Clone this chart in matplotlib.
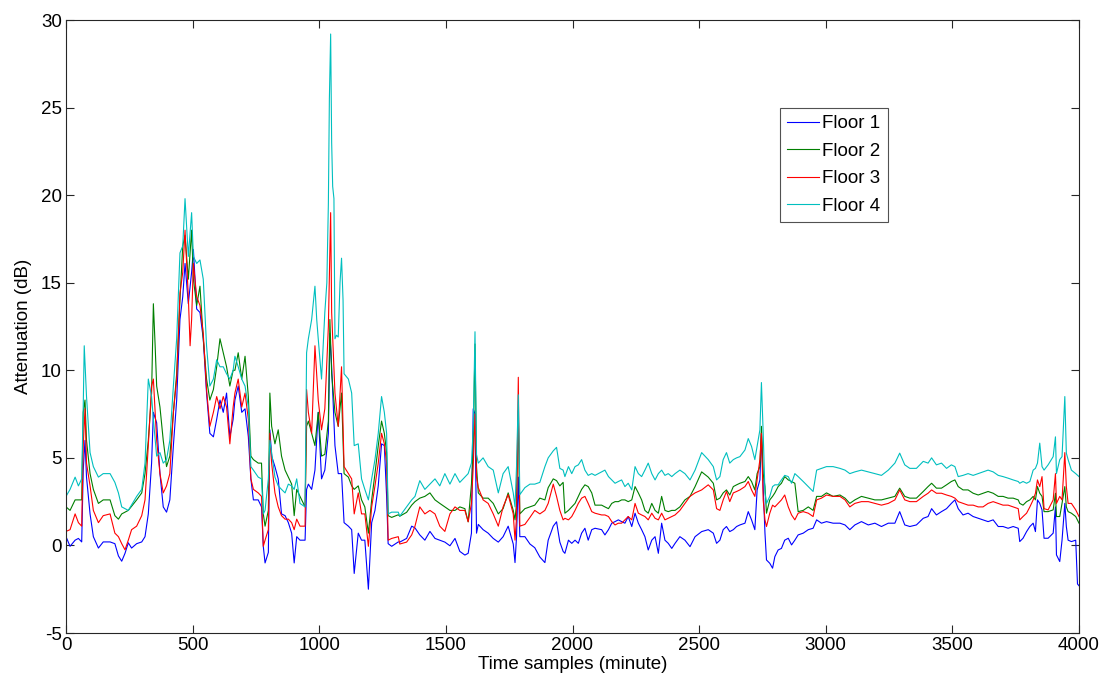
import matplotlib
matplotlib.use("Agg")
import matplotlib.pyplot as plt

# ---------------- data ----------------
t_floor1 = [0, 16, 36, 49, 62, 68, 75, 81, 95, 108, 128, 147, 174, 193, 207, 220, 233, 246, 259, 279,
            299, 312, 325, 338, 345, 358, 371, 384, 397, 410, 424, 437, 450, 461, 470, 483, 496, 503, 516,
            529, 542, 555, 568, 582, 595, 608, 621, 634, 647, 660, 667, 680, 694, 707, 720, 730, 740, 759,
            772, 779, 786, 799, 805, 812, 825, 838, 851, 865, 878, 891, 901, 911, 924, 944, 950, 957, 970,
            983, 996, 1009, 1022, 1036, 1042, 1049, 1062, 1075, 1088, 1098, 1115, 1128, 1138, 1154, 1167,
            1180, 1194, 1207, 1220, 1233, 1246, 1257, 1266, 1272, 1286, 1312, 1318, 1345, 1365, 1378, 1397,
            1417, 1437, 1457, 1476, 1496, 1516, 1536, 1555, 1575, 1588, 1601, 1608, 1615, 1621, 1628, 1647,
            1667, 1687, 1707, 1726, 1746, 1766, 1773, 1779, 1786, 1792, 1812, 1832, 1851, 1871, 1891, 1904,
            1924, 1937, 1950, 1963, 1970, 1984, 1997, 2010, 2023, 2036, 2049, 2062, 2076, 2089, 2115, 2128,
            2142, 2155, 2168, 2181, 2194, 2207, 2220, 2234, 2247, 2260, 2273, 2286, 2299, 2313, 2326, 2339,
            2352, 2365, 2378, 2392, 2405, 2424, 2444, 2464, 2484, 2510, 2536, 2556, 2569, 2582, 2595, 2608,
            2621, 2635, 2648, 2661, 2681, 2694, 2707, 2720, 2729, 2740, 2746, 2753, 2760, 2766, 2779, 2790,
            2799, 2812, 2825, 2838, 2852, 2865, 2878, 2891, 2911, 2931, 2950, 2964, 2983, 3003, 3029, 3056,
            3076, 3095, 3115, 3141, 3168, 3194, 3220, 3247, 3273, 3292, 3312, 3332, 3358, 3385, 3404, 3418,
            3437, 3457, 3477, 3496, 3510, 3523, 3542, 3562, 3582, 3602, 3621, 3641, 3661, 3681, 3700, 3720,
            3740, 3760, 3766, 3779, 3793, 3806, 3819, 3828, 3836, 3845, 3854, 3862, 3878, 3898, 3907, 3911,
            3924, 3933, 3944, 3950, 3957, 3970, 3987, 3994, 4000]
v_floor1 = [0.5, -0.05, 0.3, 0.4, 0.2, 4.3, 6.0, 3.9, 1.8, 0.5, -0.15, 0.2, 0.2, 0.1, -0.6, -0.9, -0.45, 0.15, -0.15, 0.1,
            0.2, 0.5, 1.8, 4.7, 7.6, 7.0, 4.1, 2.2, 1.9, 2.6, 5.7, 8.3, 12.9, 14.2, 16.1, 13.8, 15.6, 16.9, 13.5,
            13.3, 11.8, 8.7, 6.4, 6.2, 7.2, 8.3, 7.6, 8.7, 6.2, 7.2, 8.3, 9.1, 7.6, 7.8, 6.2, 3.8, 2.6, 2.6,
            2.2, -0.05, -1.0, -0.4, 6.6, 5.1, 4.5, 3.8, 1.8, 1.7, 1.3, 0.7, -1.0, 0.5, 0.3, 0.3, 3.2, 3.5, 3.2,
            4.3, 7.6, 3.8, 4.3, 6.4, 12.1, 10.2, 5.7, 4.1, 4.1, 1.3, 1.1, 0.9, -1.6, 0.7, 0.3,
            0.3, -2.5, 1.3, 2.0, 3.4, 5.8, 5.7, 2.8, 0.1, -0.05, 0.2, 0.19, 0.4, 1.1, 1.0, 0.6,
            0.3, 0.8, 0.4, 0.3, 0.19, -0.02, 0.4, -0.34, -0.55, -0.45, 0.7, 7.8, 7.5, 0.7, 1.2, 0.9,
            0.7, 0.4, 0.19, 0.5, 1.1, 0.08, -0.98, 0.5, 3.9, 0.5, 0.5, 0.08, -0.13, -0.66, -0.98, 0.3,
            1.1, 1.35, 0.19, -0.34, -0.45, 0.3, 0.12, 0.3, 0.12, 0.7, 0.98, 0.3, 0.9, 0.98, 0.9, 0.6,
            0.9, 1.27, 1.36, 1.46, 1.36, 1.27, 1.65, 1.08, 1.84, 1.27, 0.9, 0.5, -0.26, 0.3, 0.5, -0.45,
            1.27, 0.3, 0.12, -0.17, 0.12, 0.5, 0.3, -0.07, 0.5, 0.79, 0.9, 0.7, 0.12, 0.3, 0.9, 1.08,
            0.79, 0.9, 1.08, 1.17, 1.27, 1.93, 1.46, 0.9, 3.17, 3.74, 6.4, 3.36, 0.7, -0.83, -1.02, -1.3,
            -0.64, -0.26, -0.17, 0.3, 0.41, 0.03, 0.3, 0.6, 0.7, 0.9, 0.98, 1.46, 1.27, 1.36, 1.27, 1.27,
            1.17, 0.9, 1.17, 1.36, 1.17, 1.27, 1.08, 1.27, 1.27, 1.93, 1.17, 1.08, 1.17, 1.55, 1.65, 2.1,
            1.74, 1.93, 2.1, 2.4, 2.6, 2.1, 1.74, 1.84, 1.65, 1.55, 1.46, 1.36, 1.46, 1.08, 1.08, 0.98,
            1.08, 0.98, 0.22, 0.41, 0.79, 1.08, 1.27, 0.79, 2.6, 2.4, 2.03, 0.41, 0.41, 0.7, 2.2, -0.54,
            -0.92, 0.3, 2.4, 1.08, 0.3, 0.22, 0.3, -2.2, -2.3]

t_floor2 = [0, 16, 36, 49, 62, 68, 75, 81, 95, 108, 128, 147, 174, 193, 207, 220, 246, 279, 299, 312,
            325, 338, 345, 352, 358, 371, 384, 397, 410, 424, 437, 450, 461, 470, 483, 496, 503, 516, 529,
            542, 555, 568, 582, 595, 608, 621, 634, 647, 660, 667, 680, 694, 707, 720, 730, 740, 759, 772,
            779, 786, 799, 805, 812, 825, 838, 851, 865, 878, 891, 901, 911, 924, 944, 950, 957, 970, 983,
            996, 1009, 1022, 1036, 1042, 1049, 1062, 1075, 1088, 1098, 1115, 1128, 1138, 1154, 1167, 1180,
            1194, 1207, 1220, 1233, 1246, 1257, 1266, 1272, 1286, 1312, 1318, 1345, 1365, 1378, 1397, 1417,
            1437, 1457, 1476, 1496, 1516, 1536, 1555, 1575, 1588, 1601, 1608, 1615, 1621, 1628, 1647, 1667,
            1687, 1707, 1726, 1746, 1766, 1773, 1779, 1786, 1792, 1812, 1832, 1851, 1871, 1891, 1904, 1924,
            1937, 1950, 1963, 1970, 1984, 1997, 2010, 2023, 2036, 2049, 2062, 2076, 2089, 2115, 2128, 2142,
            2155, 2168, 2181, 2194, 2207, 2220, 2234, 2247, 2260, 2273, 2286, 2299, 2313, 2326, 2339, 2352,
            2365, 2378, 2392, 2405, 2424, 2444, 2464, 2484, 2510, 2536, 2556, 2569, 2582, 2595, 2608, 2621,
            2635, 2648, 2661, 2681, 2694, 2707, 2720, 2729, 2740, 2746, 2753, 2760, 2766, 2779, 2790, 2799,
            2812, 2825, 2838, 2852, 2865, 2878, 2891, 2911, 2931, 2950, 2964, 2983, 3003, 3029, 3056, 3076,
            3095, 3115, 3141, 3168, 3194, 3220, 3247, 3273, 3292, 3312, 3332, 3358, 3385, 3404, 3418, 3437,
            3457, 3477, 3496, 3510, 3523, 3542, 3562, 3582, 3602, 3621, 3641, 3661, 3681, 3700, 3720, 3740,
            3760, 3766, 3779, 3793, 3806, 3819, 3828, 3836, 3845, 3854, 3862, 3878, 3898, 3907, 3911, 3924,
            3933, 3944, 3950, 3957, 3970, 3987, 4000]
v_floor2 = [2.2, 2.0, 2.6, 2.6, 2.6, 7.6, 8.3, 6.0, 4.1, 3.2, 2.4, 2.6, 2.6, 1.7, 1.5, 1.8, 2.0, 2.6, 3.0, 4.1,
            6.0, 8.7, 13.8, 11.4, 9.1, 7.9, 6.0, 4.5, 5.1, 7.6, 9.8, 14.0, 17.1, 17.7, 15.2, 18.0, 15.2, 13.7, 14.8,
            11.8, 9.5, 8.3, 8.9, 10.2, 11.8, 11.0, 10.2, 9.1, 10.0, 10.0, 11.0, 9.5, 10.8, 8.5, 5.1, 4.9, 4.7, 4.7,
            1.8, 1.1, 2.0, 8.7, 6.8, 5.8, 6.6, 5.1, 4.3, 3.9, 3.5, 1.7, 3.2, 2.8, 2.2, 6.8, 7.1, 6.4, 5.7,
            7.6, 5.1, 5.2, 7.1, 12.9, 9.8, 7.6, 6.8, 8.7, 4.1, 3.9, 3.4, 3.2, 3.4, 2.6, 2.2,
            0.7, 2.6, 4.1, 5.7, 7.1, 6.4, 5.3, 1.7, 1.6, 1.75, 1.67, 1.89, 2.3, 2.5, 2.7, 2.8,
            3.0, 2.6, 2.4, 2.2, 2.0, 2.0, 2.2, 2.1, 1.35, 3.5, 5.6, 11.5, 4.5, 3.0, 2.7, 2.7,
            2.4, 1.8, 2.1, 3.0, 2.0, 1.46, 2.4, 7.7, 1.8, 2.1, 2.2, 2.3, 2.7, 2.6, 3.3, 3.8,
            3.7, 3.4, 3.6, 1.84, 2.0, 2.2, 2.4, 2.8, 3.2, 3.46, 3.36, 3.0, 2.3, 2.3, 2.2, 2.1,
            2.4, 2.5, 2.5, 2.6, 2.6, 2.5, 2.6, 3.36, 3.0, 2.6, 2.0, 1.84, 2.4, 2.0, 1.84, 2.8,
            2.0, 1.93, 2.0, 2.0, 2.2, 2.6, 2.8, 3.36, 4.2, 3.9, 3.55, 2.6, 2.7, 3.0, 3.17, 2.88,
            3.36, 3.46, 3.55, 3.65, 3.93, 3.65, 3.17, 4.1, 4.5, 6.8, 4.1, 3.36, 1.84, 2.6, 2.8, 3.0,
            3.36, 3.55, 3.93, 3.74, 3.65, 3.55, 1.93, 2.0, 2.2, 2.0, 2.8, 2.8, 3.0, 2.8, 2.88, 2.7,
            2.4, 2.6, 2.8, 2.7, 2.6, 2.6, 2.7, 2.8, 3.27, 2.8, 2.7, 2.7, 3.08, 3.36, 3.55, 3.27,
            3.27, 3.46, 3.65, 3.74, 3.36, 3.17, 3.17, 2.98, 2.88, 2.98, 3.08, 2.98, 2.8, 2.8, 2.7, 2.7,
            2.6, 2.4, 2.3, 2.5, 2.6, 2.8, 2.6, 3.36, 2.98, 2.8, 1.93, 1.93, 2.03, 2.98, 1.65, 1.65,
            2.4, 3.36, 2.2, 1.93, 1.84, 1.65, 1.27]

t_floor3 = [0, 16, 36, 49, 62, 68, 75, 81, 95, 108, 128, 147, 174, 193, 207, 220, 233, 246, 259, 279,
            299, 312, 325, 338, 345, 358, 371, 384, 397, 410, 424, 437, 450, 461, 470, 483, 490, 496, 503,
            516, 529, 542, 555, 568, 582, 595, 608, 621, 634, 647, 660, 667, 680, 694, 707, 720, 730, 740,
            759, 772, 779, 786, 799, 805, 812, 825, 838, 851, 865, 878, 891, 901, 911, 924, 944, 950, 957,
            970, 983, 996, 1009, 1022, 1036, 1045, 1049, 1062, 1075, 1088, 1098, 1115, 1128, 1138, 1154,
            1167, 1180, 1194, 1207, 1220, 1233, 1246, 1257, 1266, 1272, 1286, 1312, 1318, 1345, 1365, 1378,
            1397, 1417, 1437, 1457, 1476, 1496, 1516, 1536, 1555, 1575, 1588, 1601, 1608, 1615, 1621, 1628,
            1647, 1667, 1687, 1707, 1726, 1746, 1766, 1773, 1779, 1786, 1792, 1812, 1832, 1851, 1871, 1891,
            1904, 1924, 1937, 1950, 1963, 1970, 1984, 1997, 2010, 2023, 2036, 2049, 2062, 2076, 2089, 2115,
            2128, 2142, 2155, 2168, 2181, 2194, 2207, 2220, 2234, 2247, 2260, 2273, 2286, 2299, 2313, 2326,
            2339, 2352, 2365, 2378, 2392, 2405, 2424, 2444, 2464, 2484, 2510, 2536, 2556, 2569, 2582, 2595,
            2608, 2621, 2635, 2648, 2661, 2681, 2694, 2707, 2720, 2729, 2740, 2746, 2753, 2760, 2766, 2779,
            2790, 2799, 2812, 2825, 2838, 2852, 2865, 2878, 2891, 2911, 2931, 2950, 2964, 2983, 3003, 3029,
            3056, 3076, 3095, 3115, 3141, 3168, 3194, 3220, 3247, 3273, 3292, 3312, 3332, 3358, 3385, 3404,
            3418, 3437, 3457, 3477, 3496, 3510, 3523, 3542, 3562, 3582, 3602, 3621, 3641, 3661, 3681, 3700,
            3720, 3740, 3760, 3766, 3779, 3793, 3806, 3819, 3828, 3836, 3845, 3854, 3862, 3878, 3898, 3907,
            3911, 3924, 3933, 3944, 3950, 3957, 3970, 3987, 4000]
v_floor3 = [0.8, 0.9, 1.8, 1.3, 1.1, 5.7, 7.8, 4.7, 3.4, 2.0, 1.3, 1.7, 1.8, 0.7, 0.5, 0.1, -0.25, 0.3, 0.9, 1.1,
            1.7, 2.6, 5.7, 9.1, 9.5, 6.0, 4.1, 3.0, 3.4, 4.1, 7.6, 9.5, 14.4, 15.6, 18.0, 14.2, 11.4, 12.9, 16.1,
            14.2, 13.7, 12.1, 8.9, 6.8, 7.6, 8.5, 7.8, 8.5, 7.9, 5.8, 7.9, 8.7, 9.5, 7.9, 8.7, 7.2, 3.8, 3.2,
            3.0, 2.8, -0.05, 0.3, 0.9, 6.4, 4.7, 3.0, 2.2, 1.7, 1.5, 1.5, 1.3, 0.9, 1.5, 1.1, 1.1, 8.9, 7.6,
            6.4, 11.4, 8.3, 6.6, 7.8, 12.5, 19.0, 13.3, 8.7, 6.8, 10.2, 4.5, 4.1, 3.8, 1.8, 3.0,
            1.8, 1.8, -0.05, 2.2, 3.4, 4.7, 6.4, 5.8, 4.7, 0.3, 0.4, 0.5, 0.08, 0.19, 0.6, 1.1,
            2.2, 1.8, 2.0, 1.8, 1.1, 0.8, 1.8, 2.2, 2.0, 2.0, 1.35, 2.4, 4.5, 7.5, 3.9, 3.3,
            2.6, 2.4, 1.8, 1.1, 2.2, 2.9, 1.8, 0.3, 1.6, 9.6, 1.1, 1.2, 1.6, 2.0, 1.8, 2.0,
            2.4, 3.5, 2.8, 2.0, 1.46, 1.55, 1.46, 1.65, 2.0, 2.4, 2.7, 2.8, 2.4, 1.93, 1.84, 1.74,
            1.74, 1.65, 1.36, 1.17, 1.27, 1.27, 1.46, 1.65, 1.46, 2.4, 1.84, 1.74, 1.65, 1.46, 1.84, 1.55,
            1.46, 1.84, 1.46, 1.55, 1.65, 1.74, 2.0, 2.4, 2.8, 3.0, 3.17, 3.46, 3.17, 2.1, 2.0, 2.6,
            3.08, 2.5, 3.0, 3.08, 3.17, 3.36, 3.65, 3.17, 2.8, 3.74, 4.9, 6.4, 2.6, 1.46, 1.08, 1.84,
            2.3, 2.2, 2.4, 2.6, 2.88, 2.2, 1.74, 1.46, 1.84, 1.93, 1.84, 1.65, 2.6, 2.7, 2.88, 2.8,
            2.8, 2.6, 2.2, 2.4, 2.5, 2.5, 2.4, 2.3, 2.4, 2.6, 3.17, 2.6, 2.5, 2.5, 2.8, 2.98,
            3.17, 2.98, 2.98, 2.88, 2.8, 2.7, 2.5, 2.4, 2.3, 2.3, 2.2, 2.2, 2.4, 2.5, 2.4, 2.3,
            2.3, 2.2, 2.1, 1.46, 1.65, 1.84, 2.2, 2.6, 2.98, 3.74, 3.36, 3.93, 2.1, 2.03, 2.6, 4.1,
            2.4, 2.8, 2.6, 5.3, 3.36, 2.4, 2.4, 2.03, 1.65]

t_floor4 = [0, 16, 36, 49, 62, 68, 72, 81, 95, 108, 128, 147, 174, 193, 207, 220, 246, 279, 299, 312,
            325, 338, 345, 358, 371, 384, 397, 410, 424, 437, 450, 461, 470, 483, 496, 503, 516, 529, 542,
            555, 568, 582, 595, 608, 621, 634, 647, 660, 667, 680, 694, 707, 720, 730, 740, 759, 772, 779,
            786, 799, 805, 812, 825, 838, 851, 865, 878, 891, 901, 911, 924, 944, 950, 957, 970, 983, 990,
            996, 1009, 1022, 1030, 1036, 1040, 1045, 1049, 1053, 1058, 1062, 1068, 1075, 1082, 1088, 1094,
            1098, 1115, 1128, 1138, 1154, 1167, 1180, 1194, 1207, 1220, 1233, 1246, 1257, 1266, 1272, 1286,
            1312, 1318, 1345, 1365, 1378, 1397, 1417, 1437, 1457, 1476, 1496, 1516, 1536, 1555, 1575, 1588,
            1601, 1608, 1615, 1621, 1628, 1647, 1667, 1687, 1707, 1726, 1746, 1766, 1773, 1779, 1786, 1792,
            1812, 1832, 1851, 1871, 1891, 1904, 1924, 1937, 1950, 1963, 1970, 1984, 1997, 2010, 2023, 2036,
            2049, 2062, 2076, 2089, 2115, 2128, 2142, 2155, 2168, 2181, 2194, 2207, 2220, 2234, 2247, 2260,
            2273, 2286, 2299, 2313, 2326, 2339, 2352, 2365, 2378, 2392, 2405, 2424, 2444, 2464, 2484, 2510,
            2536, 2556, 2569, 2582, 2595, 2608, 2621, 2635, 2648, 2661, 2681, 2694, 2707, 2720, 2729, 2740,
            2746, 2753, 2760, 2766, 2779, 2790, 2799, 2812, 2825, 2838, 2852, 2865, 2878, 2891, 2911, 2931,
            2950, 2964, 2983, 3003, 3029, 3056, 3076, 3095, 3115, 3141, 3168, 3194, 3220, 3247, 3273, 3292,
            3312, 3332, 3358, 3385, 3404, 3418, 3437, 3457, 3477, 3496, 3510, 3523, 3542, 3562, 3582, 3602,
            3621, 3641, 3661, 3681, 3700, 3720, 3740, 3760, 3766, 3779, 3793, 3806, 3819, 3828, 3836, 3845,
            3854, 3862, 3878, 3898, 3907, 3911, 3924, 3933, 3944, 3950, 3957, 3970, 3987, 4000]
v_floor4 = [2.8, 3.2, 3.9, 3.4, 3.8, 7.9, 11.4, 8.5, 5.3, 4.5, 3.9, 4.1, 4.1, 3.6, 3.0, 2.2, 2.0, 2.8, 3.2, 4.7,
            9.5, 8.5, 7.2, 5.1, 5.3, 4.7, 4.9, 6.0, 9.1, 11.8, 16.7, 17.1, 19.8, 16.5, 19.0, 16.5, 16.1, 16.3, 15.2,
            11.4, 9.1, 9.5, 10.6, 10.2, 10.2, 9.8, 9.5, 10.0, 10.8, 10.2, 9.5, 9.1, 7.9, 4.5, 4.3, 3.9, 3.8, 1.8,
            2.0, 3.8, 6.0, 5.3, 3.9, 3.4, 3.2, 3.0, 3.5, 3.4, 3.2, 3.8, 2.4, 2.2, 11.0, 11.8, 12.9, 14.8, 12.9,
            11.8, 9.5, 13.3, 15.0, 19.5, 25.5, 29.2, 23.0, 20.5, 19.8, 11.8, 12.0, 11.9, 15.0, 16.4, 14.0,
            9.8, 9.5, 8.7, 5.7, 5.8, 3.8, 3.2, 2.6, 3.8, 4.9, 6.4, 8.5, 7.6, 6.4, 1.8, 1.9,
            1.9, 1.67, 2.2, 2.6, 2.8, 3.7, 3.2, 3.5, 3.8, 3.4, 4.1, 3.5, 4.1, 3.6, 3.9, 4.1,
            4.7, 6.7, 12.2, 5.2, 4.7, 5.0, 4.5, 4.3, 3.0, 4.1, 4.5, 3.0, 2.2, 4.5, 8.6, 2.9,
            3.3, 3.5, 3.5, 3.6, 4.5, 5.0, 5.4, 5.6, 4.4, 4.3, 3.93, 4.5, 4.1, 4.5, 4.6, 4.9,
            4.3, 4.0, 4.1, 4.0, 4.2, 4.3, 3.93, 3.74, 3.55, 3.65, 3.74, 3.36, 3.55, 3.17, 4.5, 4.1,
            3.93, 4.3, 4.7, 4.1, 3.74, 4.1, 4.3, 4.0, 4.1, 3.93, 4.1, 4.3, 4.1, 3.74, 4.3, 5.3,
            4.9, 4.5, 3.74, 3.93, 4.9, 5.3, 4.7, 4.9, 5.0, 5.07, 5.45, 6.1, 5.65, 4.9, 5.65, 6.6,
            9.3, 6.4, 3.0, 2.4, 2.8, 3.36, 3.46, 3.46, 3.74, 4.0, 3.93, 3.55, 4.1, 3.93, 3.65, 3.36,
            3.08, 4.3, 4.4, 4.5, 4.5, 4.4, 4.3, 4.1, 4.2, 4.3, 4.2, 4.1, 4.0, 4.3, 4.7, 5.27,
            4.6, 4.4, 4.4, 4.8, 4.7, 5.0, 4.6, 4.7, 4.4, 4.6, 4.5, 3.93, 4.0, 4.1, 4.0, 4.1,
            4.2, 4.3, 4.2, 4.0, 3.93, 3.84, 3.74, 3.65, 3.55, 3.65, 3.55, 3.65, 4.3, 4.4, 4.7, 5.84,
            4.5, 4.3, 4.6, 5.07, 6.2, 4.1, 4.9, 5.07, 8.5, 5.27, 4.9, 4.3, 4.1, 3.93]

series_labels = ["Floor 1", "Floor 2", "Floor 3", "Floor 4"]
x_ticks = [0, 500, 1000, 1500, 2000, 2500, 3000, 3500, 4000]
y_ticks = [-5, 0, 5, 10, 15, 20, 25, 30]

# ---------------- drawing ----------------
plt.rcParams['font.family'] = ['Liberation Sans', 'DejaVu Sans']
plt.rcParams['axes.unicode_minus'] = False

fig = plt.figure(figsize=(11.07, 6.84), dpi=100)
ax = fig.add_axes([66 / 1107, 51 / 684, 1013 / 1107, 613 / 684])

colors = ['#0000ff', '#007f00', '#ff0000', '#00bfbf']
for t, v, lab, c in zip([t_floor1, t_floor2, t_floor3, t_floor4],
                        [v_floor1, v_floor2, v_floor3, v_floor4],
                        series_labels, colors):
    ax.plot(t, v, color=c, lw=0.8, label=lab)

ax.set_xlim(0, 4000)
ax.set_ylim(-5, 30)
ax.set_xticks(x_ticks)
ax.set_yticks(y_ticks)
ax.tick_params(direction='in', length=6, width=0.8, top=True, right=True,
               labelsize=13.5, colors='#262626', pad=3)
ax.tick_params(labelcolor='black')
for s in ax.spines.values():
    s.set_linewidth(0.8)
    s.set_color('#262626')

ax.set_xlabel("Time samples (minute)", fontsize=13.5, labelpad=1)
ax.set_ylabel("Attenuation (dB)", fontsize=13.5, labelpad=6)

leg = ax.legend(loc='upper right', bbox_to_anchor=(0.811, 0.857), fontsize=13.5,
                frameon=True, fancybox=False, handlelength=1.7, handletextpad=0.15,
                labelspacing=0.55, borderpad=0.4, borderaxespad=0)
leg.get_frame().set_edgecolor('#262626')
leg.get_frame().set_linewidth(0.8)

fig.savefig("out.png", dpi=100)
